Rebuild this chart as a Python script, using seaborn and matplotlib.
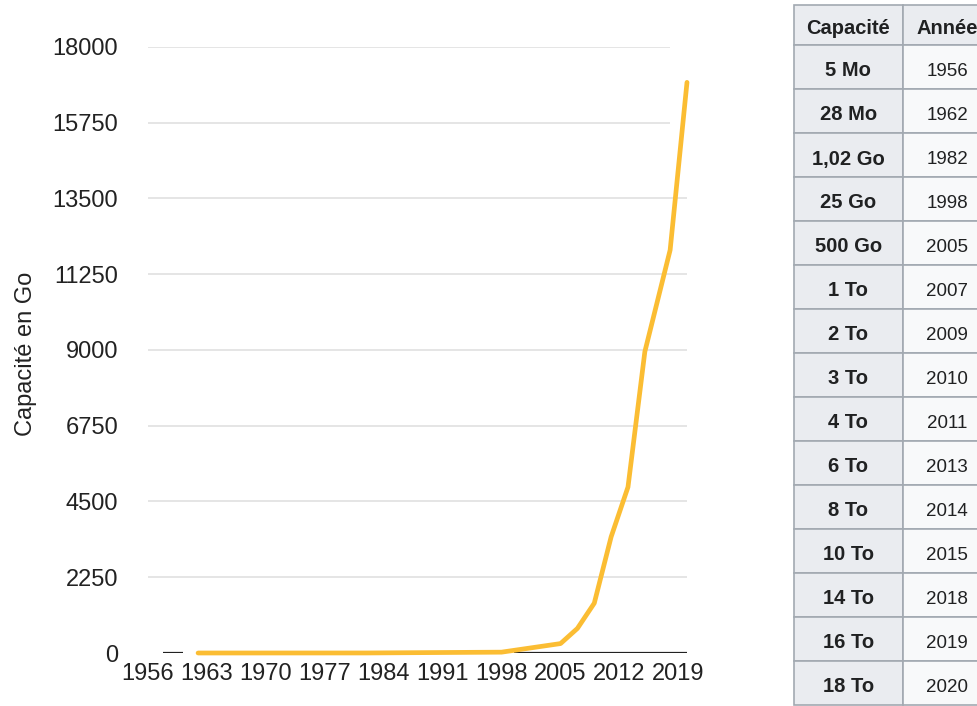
import matplotlib
matplotlib.use("Agg")
import matplotlib.pyplot as plt
from matplotlib.patches import Rectangle
import seaborn as sns
import pandas as pd

# Hard-disk capacity curve (Go) plotted on the chart
years = [1962, 1982, 1998, 2005, 2007, 2009, 2011, 2013, 2015, 2018, 2020]
capacity_go = [0.028, 1.02, 25, 280, 730, 1480, 3450, 4930, 8950, 11970, 16950]

# Axis ticks
x_ticks = [1956, 1963, 1970, 1977, 1984, 1991, 1998, 2005, 2012, 2019]
y_ticks = [0, 2250, 4500, 6750, 9000, 11250, 13500, 15750, 18000]

# Side table
table_header = ["Capacité", "Année"]
table_capacity = ["5 Mo", "28 Mo", "1,02 Go", "25 Go", "500 Go", "1 To", "2 To",
                  "3 To", "4 To", "6 To", "8 To", "10 To", "14 To", "16 To", "18 To"]
table_year = ["1956", "1962", "1982", "1998", "2005", "2007", "2009", "2010",
              "2011", "2013", "2014", "2015", "2018", "2019", "2020"]

sns.set_theme(style="white")
plt.rcParams["font.family"] = ["Liberation Sans", "DejaVu Sans"]

W, H = 977, 706
fig = plt.figure(figsize=(W / 100, H / 100), dpi=100)
fig.patch.set_facecolor("white")

ax = fig.add_axes([147.5 / W, 53 / H, 539.5 / W, 606 / H])
df = pd.DataFrame({"Année": years, "Capacité": capacity_go})

# horizontal grid (the two upper rules stop a little short)
for yv in y_ticks[1:]:
    x_end = 2018 if yv >= 15750 else 2020
    ax.hlines(yv, 1956, x_end, color="#e3e3e3", lw=1.3, zorder=0)

# baseline pieces at zero
ax.hlines([0, 0], [1957.8, 1999.5], [1960.2, 2020], color="#222222", lw=1.6, zorder=1)

sns.lineplot(data=df, x="Année", y="Capacité", ax=ax, color="#fbbd33",
             lw=3.4, zorder=3, clip_on=False, solid_capstyle="round",
             solid_joinstyle="round")

ax.set_xlim(1956, 2020)
ax.set_ylim(0, 18000)
ax.set_xticks(x_ticks)
ax.set_yticks(y_ticks)
ax.set_xticklabels([str(v) for v in x_ticks])
ax.set_yticklabels([str(v) for v in y_ticks])
ax.tick_params(axis="both", length=0, labelsize=17, colors="#222222")
ax.tick_params(axis="x", pad=7)
ax.tick_params(axis="y", pad=21)
for s in ax.spines.values():
    s.set_visible(False)
ax.grid(False)
ax.set_xlabel("")
ax.set_ylabel("Capacité en Go", fontsize=17, color="#222222")
ax.yaxis.label.set_va("center")
ax.yaxis.set_label_coords(-0.226, 0.493)

# table drawn in pixel coordinates
tax = fig.add_axes([0, 0, 1, 1])
tax.set_xlim(0, W)
tax.set_ylim(H, 0)
tax.axis("off")

col_x = [794, 902.5, 992]
row_top = 5
header_h = 40
row_h = 44.0
text_drop = 4
border = "#a2a9b1"
head_bg = "#eaecf0"
cell_bg = "#f8f9fa"
txt = "#202122"

# header row
for j, label in enumerate(table_header):
    tax.add_patch(Rectangle((col_x[j], row_top), col_x[j + 1] - col_x[j], header_h,
                            facecolor=head_bg, edgecolor=border, lw=1.2))
    tax.text((col_x[j] + col_x[j + 1]) / 2, row_top + header_h / 2 + text_drop, label,
             ha="center", va="center", fontsize=14.5, fontweight="bold", color=txt)

for i, (cap, yr) in enumerate(zip(table_capacity, table_year)):
    y0 = row_top + header_h + i * row_h
    tax.add_patch(Rectangle((col_x[0], y0), col_x[1] - col_x[0], row_h,
                            facecolor=head_bg, edgecolor=border, lw=1.2))
    tax.add_patch(Rectangle((col_x[1], y0), col_x[2] - col_x[1], row_h,
                            facecolor=cell_bg, edgecolor=border, lw=1.2))
    tax.text((col_x[0] + col_x[1]) / 2, y0 + row_h / 2 + text_drop, cap,
             ha="center", va="center", fontsize=14.5, fontweight="bold", color=txt)
    tax.text((col_x[1] + col_x[2]) / 2, y0 + row_h / 2 + text_drop, yr,
             ha="center", va="center", fontsize=13.5, color=txt)

fig.savefig("out.png", dpi=100)
